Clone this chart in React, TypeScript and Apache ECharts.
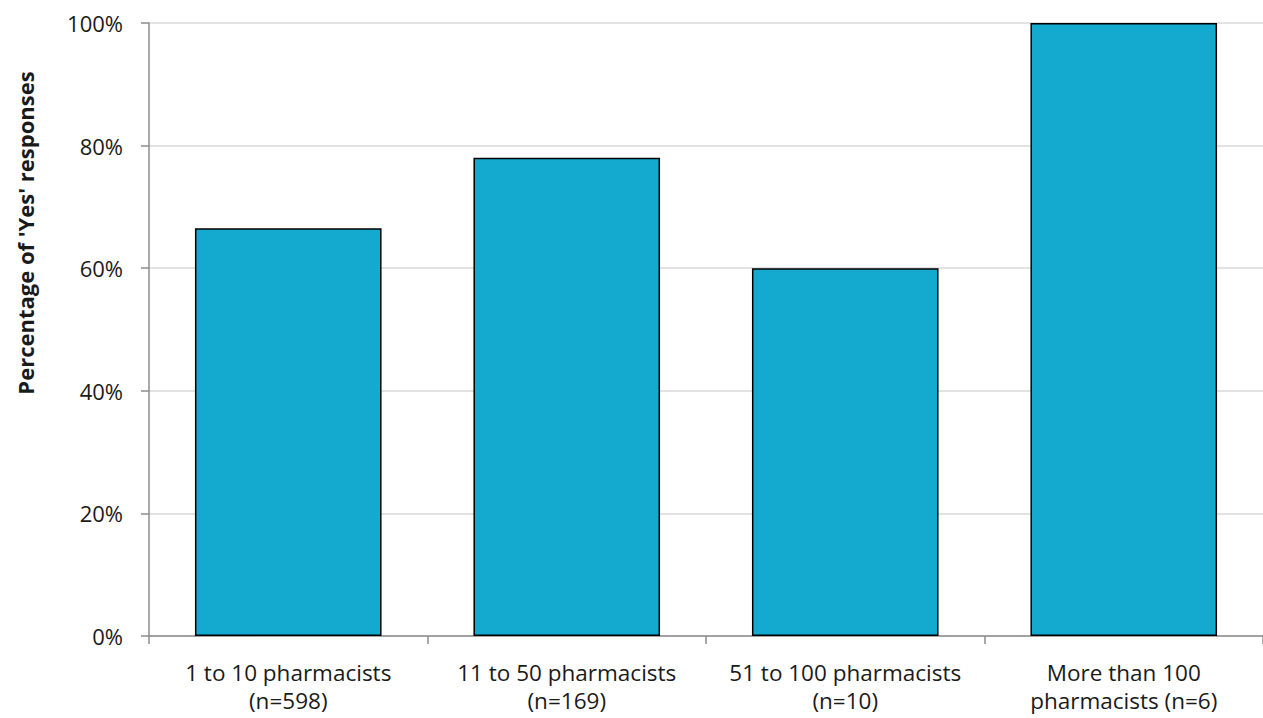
import React, { useEffect, useRef } from "react";
import * as echarts from "echarts";

const categories = [
  "1 to 10 pharmacists\n(n=598)",
  "11 to 50 pharmacists\n(n=169)",
  "51 to 100 pharmacists\n(n=10)",
  "More than 100\npharmacists (n=6)",
];
const yesPercent = [66.5, 78, 60, 100];
const yAxisTitle = "Percentage of 'Yes' responses";

export default function App() {
  const ref = useRef<HTMLDivElement>(null);
  useEffect(() => {
    if (!ref.current) return;
    const chart = echarts.init(ref.current, undefined, { renderer: "svg" });
    const font = "'Open Sans', 'Noto Sans', sans-serif";
    chart.setOption({
      animation: false,
      grid: { left: 149, right: -2, top: 23, bottom: 82, containLabel: false },
      graphic: [
        {
          type: "text",
          x: 25,
          y: 233,
          rotation: Math.PI / 2,
          style: {
            text: yAxisTitle,
            fontSize: 22,
            fontWeight: "bold",
            fontFamily: font,
            fill: "#1a1a1a",
            textAlign: "center",
            textVerticalAlign: "middle",
          },
        },
      ],
      xAxis: {
        type: "category",
        data: categories,
        axisLine: { show: true, lineStyle: { color: "#8c8c8c", width: 1.5 } },
        axisTick: { show: true, length: 8, lineStyle: { color: "#8c8c8c", width: 1.5 } },
        axisLabel: {
          color: "#1a1a1a",
          fontSize: 22.5,
          fontFamily: font,
          lineHeight: 28,
          margin: 22,
          interval: 0,
        },
      },
      yAxis: {
        type: "value",
        min: 0,
        max: 100,
        interval: 20,
        axisLine: { show: true, lineStyle: { color: "#8c8c8c", width: 1.5 } },
        axisTick: { show: true, length: 8, lineStyle: { color: "#8c8c8c", width: 1.5 } },
        axisLabel: {
          formatter: "{value}%",
          color: "#1a1a1a",
          fontSize: 22,
          fontFamily: font,
          margin: 26,
        },
        splitLine: { show: true, lineStyle: { color: "#d9d9d9", width: 1.5 } },
      },
      series: [
        {
          type: "bar",
          data: yesPercent,
          barCategoryGap: "33%",
          itemStyle: { color: "#14a9cf", borderColor: "#000000", borderWidth: 1.5 },
        },
      ],
    });
    return () => chart.dispose();
  }, []);
  return (
    <div
      ref={ref}
      style={{ position: "fixed", left: 0, top: 0, width: 1263, height: 718, background: "#fff" }}
    />
  );
}
